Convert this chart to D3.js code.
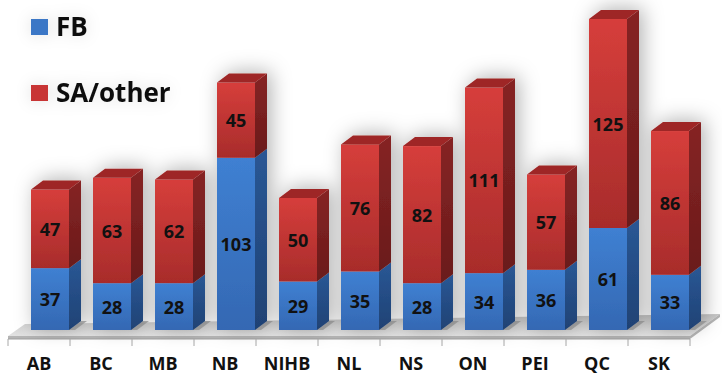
<!DOCTYPE html>
<html>
<head>
<meta charset="utf-8">
<script src="https://cdn.jsdelivr.net/npm/d3@7"></script>
<style>
  body { margin: 0; background: #fff; }
  svg { display: block; font-family: "Open Sans", sans-serif; }
</style>
</head>
<body>
<div id="chart"></div>
<script>
// data
var categories = ["AB", "BC", "MB", "NB", "NIHB", "NL", "NS", "ON", "PEI", "QC", "SK"];
var fbValues = [37, 28, 28, 103, 29, 35, 28, 34, 36, 61, 33];
var otherValues = [47, 63, 62, 45, 50, 76, 82, 111, 57, 125, 86];
var seriesNames = ["FB", "SA/other"];

var w = 722, h = 375;
var depthX = 12, depthY = -9;

var svg = d3.select("#chart").append("svg")
  .attr("width", w)
  .attr("height", h);

var defs = svg.append("defs");

var shadow = defs.append("filter").attr("id", "glow")
  .attr("x", "-30%").attr("y", "-30%").attr("width", "160%").attr("height", "160%");
shadow.append("feDropShadow")
  .attr("dx", 4).attr("dy", -2).attr("stdDeviation", 10)
  .attr("flood-color", "#000").attr("flood-opacity", 0.3);

var softGlow = defs.append("filter").attr("id", "softglow")
  .attr("x", "-30%").attr("y", "-60%").attr("width", "160%").attr("height", "220%");
softGlow.append("feDropShadow")
  .attr("dx", 0).attr("dy", 0).attr("stdDeviation", 8)
  .attr("flood-color", "#000").attr("flood-opacity", 0.12);

function vGrad(id, c1, c2) {
  var g = defs.append("linearGradient").attr("id", id)
    .attr("x1", 0).attr("y1", 0).attr("x2", 0).attr("y2", 1);
  g.append("stop").attr("offset", "0%").attr("stop-color", c1);
  g.append("stop").attr("offset", "100%").attr("stop-color", c2);
}
vGrad("redFront", "#d63e3b", "#a82c2b");
vGrad("redSide", "#862424", "#6a1b1b");
vGrad("blueFront", "#3f80d2", "#3468b3");
vGrad("blueSide", "#2a5795", "#1f4274");
vGrad("floorTop", "#c4c4c4", "#e2e2e2");

var xFloor = d3.scaleBand().domain(categories).range([8, 690]);
var y = d3.scaleLinear().domain([0, 190]).range([330, 330 - 190 * 1.672]);

var barOffset = 23, barW = 38;

// floor
var fx0 = xFloor.range()[0], fx1 = xFloor.range()[1];
var floorG = svg.append("g");
floorG.append("path")
  .attr("d", "M" + fx0 + ",336 L" + (fx0 + 17) + ",324 L" + (fx1 + 30) + ",314 L" + fx1 + ",336 Z")
  .attr("fill", "url(#floorTop)");
floorG.append("path")
  .attr("d", "M" + fx0 + ",336 L" + fx1 + ",336 L" + (fx1 + 30) + ",314 L" + (fx1 + 30) + ",317 L" + fx1 + ",339 L" + fx0 + ",339 Z")
  .attr("fill", "#b5b5b5");
floorG.append("line")
  .attr("x1", fx0).attr("x2", fx1).attr("y1", 339).attr("y2", 339)
  .attr("stroke", "#a0a0a0").attr("stroke-width", 1);

var bounds = categories.map(function(c) { return xFloor(c); }).concat([fx1]);
floorG.selectAll(".tick-mark").data(bounds).enter().append("line")
  .attr("class", "tick-mark")
  .attr("x1", function(d) { return d; }).attr("x2", function(d) { return d; })
  .attr("y1", 339).attr("y2", 346)
  .attr("stroke", "#a8a8a8").attr("stroke-width", 1);

// bar shadows on floor
floorG.selectAll(".bshadow").data(categories).enter().append("path")
  .attr("class", "bshadow")
  .attr("d", function(c) {
    var x = xFloor(c) + barOffset;
    return "M" + x + ",330 L" + (x + depthX) + "," + (330 + depthY) + " L" + (x + barW + depthX + 6) + "," + (330 + depthY) + " L" + (x + barW + 6) + ",330 Z";
  })
  .attr("fill", "#9a9a9a").attr("opacity", 0.7);

// stacked data
var rows = categories.map(function(c, i) {
  return { cat: c, FB: fbValues[i], "SA/other": otherValues[i] };
});
var stacked = d3.stack().keys(seriesNames)(rows);

var barsG = svg.append("g").attr("filter", "url(#glow)");
var styles = {
  "FB": { front: "url(#blueFront)", side: "url(#blueSide)", top: "#3262a8" },
  "SA/other": { front: "url(#redFront)", side: "url(#redSide)", top: "#9e2826" }
};

var segs = [];
stacked.forEach(function(layer) {
  layer.forEach(function(d) {
    segs.push({ key: layer.key, cat: d.data.cat, y0: d[0], y1: d[1], value: d[1] - d[0] });
  });
});

var segG = barsG.selectAll(".seg").data(segs).enter().append("g").attr("class", "seg");

segG.append("path")
  .attr("d", function(d) {
    var x = xFloor(d.cat) + barOffset + barW;
    var yb = y(d.y0), yt = y(d.y1);
    return "M" + x + "," + yb + " L" + x + "," + yt + " L" + (x + depthX) + "," + (yt + depthY) + " L" + (x + depthX) + "," + (yb + depthY) + " Z";
  })
  .attr("fill", function(d) { return styles[d.key].side; });

segG.append("rect")
  .attr("x", function(d) { return xFloor(d.cat) + barOffset; })
  .attr("y", function(d) { return y(d.y1); })
  .attr("width", barW)
  .attr("height", function(d) { return y(d.y0) - y(d.y1); })
  .attr("fill", function(d) { return styles[d.key].front; });

// top faces
segG.filter(function(d) { return d.key === "SA/other"; }).append("path")
  .attr("d", function(d) {
    var x = xFloor(d.cat) + barOffset;
    var yt = y(d.y1);
    return "M" + x + "," + yt + " L" + (x + depthX) + "," + (yt + depthY) + " L" + (x + barW + depthX) + "," + (yt + depthY) + " L" + (x + barW) + "," + yt + " Z";
  })
  .attr("fill", function(d) { return styles[d.key].top; });

// value labels
svg.append("g").selectAll("text").data(segs).enter().append("text")
  .attr("x", function(d) { return xFloor(d.cat) + barOffset + barW / 2; })
  .attr("y", function(d) { return (y(d.y0) + y(d.y1)) / 2 + 7; })
  .attr("text-anchor", "middle")
  .style("font-size", "18px")
  .style("font-weight", "bold")
  .attr("fill", "#111")
  .text(function(d) { return d.value; });

// category labels
var xAxis = d3.axisBottom(xFloor).tickSize(0).tickPadding(0);
var axisG = svg.append("g")
  .attr("transform", "translate(0,356)")
  .call(xAxis);
axisG.select(".domain").remove();
axisG.selectAll("text")
  .attr("dy", null)
  .attr("y", 14)
  .style("font-family", "'Open Sans', sans-serif")
  .style("font-size", "18px")
  .style("font-weight", "bold")
  .attr("fill", "#111");

// legend
var legend = svg.append("g").attr("filter", "url(#softglow)");
var legendColors = ["#3a77c6", "#c83634"];
var legendY = [19, 85];
seriesNames.forEach(function(name, i) {
  legend.append("rect")
    .attr("x", 31).attr("y", legendY[i])
    .attr("width", 17).attr("height", 16)
    .attr("fill", legendColors[i]);
  legend.append("text")
    .attr("x", 56).attr("y", legendY[i] + 17)
    .style("font-size", "26px")
    .style("font-weight", "bold")
    .attr("fill", "#111")
    .text(name);
});
</script>
</body>
</html>
